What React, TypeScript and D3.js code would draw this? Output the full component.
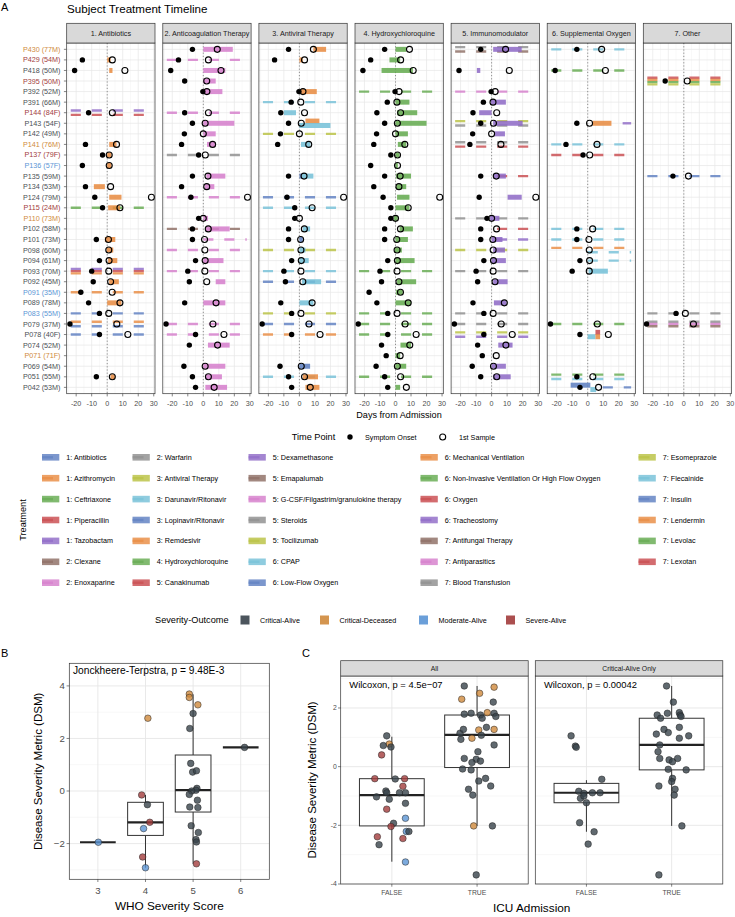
import React from "react";
import * as d3 from "d3";

const FONT = "'Liberation Sans', Arial, Helvetica, sans-serif";

// ---- panel A data ----
const patients = ["P430","P429","P418","P395","P392","P391","P144","P143","P142","P141","P137","P136","P135","P134","P124","P115","P110","P102","P101","P098","P094","P093","P092","P091","P089","P083","P079","P078","P074","P071","P069","P051","P042"];
const patientAgeSex = ["77M","54M","50M","50M","52M","66M","84F","54F","49M","76M","79F","57F","59M","53M","79M","24M","73M","58M","73M","60M","61M","70M","45M","35M","78M","55M","37M","40F","52M","71F","54M","55M","53M"];
const patientOutcome = ["CD","SA","CA","SA","CA","CA","SA","CA","CA","CD","SA","MA","CA","CA","CA","SA","CD","CA","CA","CA","CA","CA","CA","MA","CA","MA","CA","CA","CA","CD","CA","CA","CA"];
const onsetDay = [-7,-16,-21,-12,-0.3,-5.3,-12,-7,-12.2,-14,-3,-16,-7,-14,-8,-3,-3,-7,-7,null,-5,-10,-9,-17,-12,-5,-24,-5,-9,-6,-12.5,-7,-5];
const sampleDay = [9,3.3,11.4,2.2,2.3,0.9,3.3,1.2,0,6,1.3,1.3,3,2.2,28.5,8.2,0,3.2,0.8,1,1.2,1,2.2,3.2,8.2,1,6.2,13.3,9.2,3,1.2,3.3,7];

const outcomes = ["Critical-Alive","Critical-Deceased","Moderate-Alive","Severe-Alive"];
const outcomeCodes = ["CA","CD","MA","SA"];
const outcomeColors = ["#38434b","#cf8a3c","#5b95d5","#a23c3c"];

const facetNames = ["1. Antibiotics","2. Anticoagulation Therapy","3. Antiviral Therapy","4. Hydroxychloroquine","5. Immunomodulator","6. Supplemental Oxygen","7. Other"];

const treatments = [
  "1: Antibiotics","1: Azithromycin","1: Ceftriaxone","1: Piperacillin","1: Tazobactam","2: Clexane","2: Enoxaparine",
  "2: Warfarin","3: Antiviral Therapy","3: Darunavir/Ritonavir","3: Lopinavir/Ritonavir","3: Remdesivir","4: Hydroxychloroquine","5: Canakinumab",
  "5: Dexamethasone","5: Emapalumab","5: G-CSF/Filgastrim/granulokine therapy","5: Steroids","5: Tocilizumab","6: CPAP","6: Low-Flow Oxygen",
  "6: Mechanical Ventilation","6: Non-Invasive Ventilation Or High Flow Oxygen","6: Oxygen","6: Tracheostomy","7: Antifungal Therapy","7: Antiparasitics","7: Blood Transfusion",
  "7: Esomeprazole","7: Flecainide","7: Insulin","7: Lendermin","7: Levolac","7: Lexotan"
];
const treatmentPalette = ["#5b7dc0","#e8893e","#62a94c","#c8474b","#8d68c6","#8b6a60","#d57ccb","#8c8c8c","#b8c03f","#73bfd7"];

// [patient, treatment, start day, end day, dashed, lane]
const antibioticsSegs = [
  ["P429","1: Azithromycin",0,2.2,0,0],
  ["P418","1: Azithromycin",1.3,3.4,0,0],
  ["P144","1: Tazobactam",-23.5,28,1,-1],
  ["P144","1: Piperacillin",-23.5,28,1,1],
  ["P141","1: Azithromycin",1.3,6,0,0],
  ["P137","1: Azithromycin",0,2.8,0,0],
  ["P136","1: Azithromycin",0,2.8,0,0],
  ["P134","1: Azithromycin",-8.6,-1.5,0,0],
  ["P124","1: Azithromycin",1.3,9.2,0,0],
  ["P115","1: Ceftriaxone",-23.5,28,1,0],
  ["P115","1: Azithromycin",0.6,8.2,0,0],
  ["P101","1: Azithromycin",-1.5,5.2,0,0],
  ["P098","1: Azithromycin",-0.4,3.9,0,0],
  ["P094","1: Azithromycin",0.6,6.5,0,0],
  ["P093","1: Tazobactam",-23.5,28,1,-1],
  ["P093","1: Piperacillin",-23.5,28,1,0],
  ["P093","1: Azithromycin",-23.5,28,1,1],
  ["P092","1: Azithromycin",1.3,7.5,0,0],
  ["P091","1: Azithromycin",-23.5,28,1,0],
  ["P089","1: Azithromycin",0,9.2,0,0],
  ["P083","1: Antibiotics",-23.5,28,1,0],
  ["P079","1: Azithromycin",-23.5,28,1,-1],
  ["P079","1: Antibiotics",-23.5,28,1,1],
  ["P078","1: Antibiotics",-23.5,28,1,0],
  ["P051","1: Azithromycin",2.2,5,0,0],
];
const anticoagSegs = [
  ["P430","2: Enoxaparine",0,19,0,0],
  ["P429","2: Enoxaparine",-23.5,28,1,0],
  ["P418","2: Enoxaparine",0,14.2,0,0],
  ["P395","2: Enoxaparine",0,8,0,0],
  ["P392","2: Enoxaparine",0,12.3,0,0],
  ["P144","2: Enoxaparine",-23.5,28,1,0],
  ["P143","2: Enoxaparine",0,20,0,0],
  ["P142","2: Enoxaparine",0,8,0,0],
  ["P141","2: Enoxaparine",2.4,8,0,0],
  ["P137","2: Warfarin",-23.5,28,1,0],
  ["P135","2: Enoxaparine",2,14.2,0,0],
  ["P134","2: Enoxaparine",0.9,7.1,0,0],
  ["P124","2: Enoxaparine",-23.5,28,1,0],
  ["P110","2: Enoxaparine",0,3,0,0],
  ["P102","2: Clexane",-23.5,28,1,0],
  ["P102","2: Enoxaparine",1.5,17,0,0],
  ["P101","2: Enoxaparine",0,28,1,0],
  ["P098","2: Enoxaparine",-23.5,28,1,0],
  ["P094","2: Enoxaparine",0,13,0,0],
  ["P093","2: Enoxaparine",-23.5,28,1,0],
  ["P092","2: Enoxaparine",8,14.2,0,0],
  ["P089","2: Enoxaparine",0,14.2,0,0],
  ["P079","2: Enoxaparine",-23.5,28,1,0],
  ["P078","2: Enoxaparine",-23.5,28,1,0],
  ["P074","2: Enoxaparine",3,17,0,0],
  ["P069","2: Enoxaparine",0,14.2,0,0],
  ["P051","2: Enoxaparine",1.3,12,0,0],
  ["P042","2: Enoxaparine",1.3,15.3,0,0],
];
const antiviralSegs = [
  ["P430","3: Remdesivir",9,17.2,0,0],
  ["P429","3: Remdesivir",0,2.2,0,0],
  ["P392","3: Remdesivir",1,11.2,0,0],
  ["P391","3: Darunavir/Ritonavir",-23.5,28,1,0],
  ["P144","3: Darunavir/Ritonavir",-10,-2.2,0,0],
  ["P143","3: Remdesivir",3.9,12.9,0,-1],
  ["P143","3: Darunavir/Ritonavir",0,20,0,1],
  ["P142","3: Antiviral Therapy",-23.5,28,1,0],
  ["P141","3: Darunavir/Ritonavir",1,7.1,0,0],
  ["P135","3: Lopinavir/Ritonavir",0,1.5,0,0],
  ["P135","3: Darunavir/Ritonavir",1.5,9,0,0],
  ["P124","3: Lopinavir/Ritonavir",-23.5,28,1,0],
  ["P115","3: Darunavir/Ritonavir",-23.5,28,1,0],
  ["P110","3: Darunavir/Ritonavir",0,0,0,0],
  ["P102","3: Darunavir/Ritonavir",2.2,6.9,0,0],
  ["P101","3: Lopinavir/Ritonavir",0,2.2,0,0],
  ["P098","3: Antiviral Therapy",-23.5,28,1,0],
  ["P098","3: Darunavir/Ritonavir",0,3.9,0,0],
  ["P094","3: Darunavir/Ritonavir",0,6,0,0],
  ["P093","3: Darunavir/Ritonavir",-23.5,28,1,0],
  ["P092","3: Lopinavir/Ritonavir",-23.5,28,1,0],
  ["P092","3: Darunavir/Ritonavir",1.7,14,0,0],
  ["P089","3: Darunavir/Ritonavir",0,9,0,0],
  ["P083","3: Antiviral Therapy",-23.5,28,1,0],
  ["P079","3: Lopinavir/Ritonavir",-23.5,28,1,0],
  ["P078","3: Remdesivir",-23.5,28,1,0],
  ["P069","3: Lopinavir/Ritonavir",0,6.9,0,0],
  ["P051","3: Darunavir/Ritonavir",-23.5,28,1,0],
  ["P051","3: Remdesivir",2.2,12,0,0],
  ["P042","3: Remdesivir",3.9,12.9,0,0],
];
const hcqSegs = [
  ["P430","4: Hydroxychloroquine",0,6.9,0,0],
  ["P429","4: Hydroxychloroquine",-3.9,3,0,0],
  ["P418","4: Hydroxychloroquine",-9,11.2,0,0],
  ["P392","4: Hydroxychloroquine",-23.5,28,1,0],
  ["P391","4: Hydroxychloroquine",0,9,0,0],
  ["P144","4: Hydroxychloroquine",1,14,0,0],
  ["P143","4: Hydroxychloroquine",0,20,0,0],
  ["P142","4: Hydroxychloroquine",0,8,0,0],
  ["P141","4: Hydroxychloroquine",1.5,6.9,0,0],
  ["P137","4: Hydroxychloroquine",0,2.6,0,0],
  ["P136","4: Hydroxychloroquine",0,1.5,0,0],
  ["P135","4: Hydroxychloroquine",0.4,10,0,0],
  ["P134","4: Hydroxychloroquine",0.4,6.9,0,0],
  ["P124","4: Hydroxychloroquine",1,9,0,0],
  ["P115","4: Hydroxychloroquine",0,9,0,0],
  ["P110","4: Hydroxychloroquine",-1,1.5,0,0],
  ["P102","4: Hydroxychloroquine",2.6,11.2,0,0],
  ["P101","4: Hydroxychloroquine",0,8,0,0],
  ["P098","4: Hydroxychloroquine",-0.6,4.1,0,0],
  ["P094","4: Hydroxychloroquine",0,12.3,0,0],
  ["P093","4: Hydroxychloroquine",-23.5,28,1,0],
  ["P092","4: Hydroxychloroquine",1,13.3,0,0],
  ["P091","4: Hydroxychloroquine",0.4,4.7,0,0],
  ["P089","4: Hydroxychloroquine",0,10,0,0],
  ["P083","4: Hydroxychloroquine",-23.5,28,1,0],
  ["P079","4: Hydroxychloroquine",-23.5,28,1,0],
  ["P078","4: Hydroxychloroquine",-23.5,28,1,0],
  ["P074","4: Hydroxychloroquine",3.2,10,0,0],
  ["P071","4: Hydroxychloroquine",0,3,0,0],
  ["P069","4: Hydroxychloroquine",0,6.9,0,0],
  ["P051","4: Hydroxychloroquine",-23.5,28,1,0],
  ["P042","4: Hydroxychloroquine",0,3,0,0],
];
const immunoSegs = [
  ["P430","5: Steroids",-23.5,28,1,-1],
  ["P430","5: Emapalumab",-23.5,28,1,1],
  ["P430","5: Dexamethasone",1,19.4,0,0],
  ["P418","5: Dexamethasone",-9.5,-7.3,0,0],
  ["P392","5: G-CSF/Filgastrim/granulokine therapy",-23.5,28,1,0],
  ["P391","5: Dexamethasone",-0.4,9.2,0,0],
  ["P144","5: Dexamethasone",-8,0,0,0],
  ["P143","5: Tocilizumab",-23.5,28,1,-1],
  ["P143","5: Steroids",-23.5,28,1,1],
  ["P143","5: Dexamethasone",1,20,0,0],
  ["P142","5: Dexamethasone",1.7,8.6,0,0],
  ["P141","5: Steroids",-23.5,28,1,-1],
  ["P141","5: Canakinumab",-23.5,28,1,1],
  ["P135","5: Canakinumab",3.5,28,1,0],
  ["P135","5: Dexamethasone",1,9.2,0,0],
  ["P124","5: Dexamethasone",10.3,19.4,0,0],
  ["P110","5: Steroids",-23.5,28,1,0],
  ["P110","5: Dexamethasone",-1,5,0,0],
  ["P102","5: Canakinumab",3.5,28,1,0],
  ["P101","5: Dexamethasone",0,7,0,0],
  ["P101","5: Dexamethasone",3.5,28,1,0],
  ["P098","5: Tocilizumab",-23.5,28,1,0],
  ["P098","5: Dexamethasone",1,8.6,0,0],
  ["P094","5: Dexamethasone",0,9.2,0,0],
  ["P093","5: Steroids",-23.5,28,1,0],
  ["P092","5: Dexamethasone",1,10.3,0,0],
  ["P089","5: Dexamethasone",1.5,9.7,0,0],
  ["P083","5: Steroids",-23.5,28,1,0],
  ["P079","5: Steroids",-23.5,28,1,0],
  ["P078","5: Tocilizumab",-23.5,28,1,-1],
  ["P078","5: Dexamethasone",-23.5,28,1,1],
  ["P074","5: Dexamethasone",4.3,13.5,0,0],
  ["P071","5: Dexamethasone",0,0,0,0],
  ["P069","5: Dexamethasone",0,9.2,0,0],
  ["P051","5: Dexamethasone",1,12.3,0,0],
];
const oxygenSegs = [
  ["P430","6: CPAP",-23.5,28,1,0],
  ["P418","6: Non-Invasive Ventilation Or High Flow Oxygen",-23.5,28,1,0],
  ["P143","6: Mechanical Ventilation",3.2,15.3,0,0],
  ["P143","6: Tracheostomy",22.5,28,1,0],
  ["P141","6: CPAP",-23.5,28,1,0],
  ["P137","6: Oxygen",-23.5,28,1,0],
  ["P102","6: CPAP",-23.5,28,1,0],
  ["P101","6: CPAP",-23.5,28,1,0],
  ["P098","6: Mechanical Ventilation",-23.5,28,1,-1],
  ["P098","6: CPAP",0,28,1,1],
  ["P094","6: CPAP",0,28,1,0],
  ["P093","6: CPAP",0.6,13,0,0],
  ["P079","6: Non-Invasive Ventilation Or High Flow Oxygen",-23.5,28,1,0],
  ["P078","6: CPAP",0,5,0,1],
  ["P078","6: Oxygen",5,8,0,-1],
  ["P078","6: Mechanical Ventilation",5,8,0,1],
  ["P051","6: Non-Invasive Ventilation Or High Flow Oxygen",-23.5,28,1,-1],
  ["P051","6: CPAP",-23.5,28,1,1],
  ["P042","6: Low-Flow Oxygen",-11,1.7,0,-1],
  ["P042","6: CPAP",1.7,5.4,0,1],
  ["P042","6: Low-Flow Oxygen",9.7,28,1,0],
];
const otherSegs = [
  ["P395","7: Lexotan",-23.5,28,1,-1.5],
  ["P395","7: Lendermin",-23.5,28,1,-0.5],
  ["P395","7: Levolac",-23.5,28,1,0.5],
  ["P395","7: Esomeprazole",-23.5,28,1,1.5],
  ["P135","7: Insulin",-23.5,28,1,0],
  ["P083","7: Blood Transfusion",-23.5,28,1,0],
  ["P079","7: Blood Transfusion",-23.5,28,1,-1],
  ["P079","7: Antiparasitics",-23.5,28,1,0],
  ["P079","7: Antifungal Therapy",-23.5,28,1,1],
];
const facetSegments = [antibioticsSegs, anticoagSegs, antiviralSegs, hcqSegs, immunoSegs, oxygenSegs, otherSegs];

const dayTicks = [-20, -10, 0, 10, 20, 30];
const dayMinor = [-25, -15, -5, 5, 15, 25];

// ---- panel B data ----
const whoScores = ["3", "4", "5", "6"];
// [score, lower whisker, q1, median, q3, upper whisker]
const bBoxes = [
  ["3", -1.95, -1.95, -1.95, -1.95, -1.95],
  ["4", -2.92, -1.69, -1.19, -0.43, -0.15],
  ["5", -2.77, -0.8, 0.03, 1.37, 3.68],
  ["6", 1.66, 1.66, 1.66, 1.66, 1.66],
];
// [score, DSM, jitter, outcome]
const bPoints = [
  ["3", -1.95, 0.01, "MA"],
  ["4", -0.15, -0.08, "SA"], ["4", -0.52, 0.04, "CA"], ["4", -1.19, 0.09, "SA"], ["4", -1.43, -0.04, "MA"],
  ["4", -2.51, -0.06, "SA"], ["4", -2.92, 0, "MA"], ["4", 2.77, 0.05, "CD"],
  ["5", 3.69, -0.08, "CD"], ["5", 3.56, -0.08, "CD"], ["5", 3.28, 0.1, "CD"], ["5", 2.95, 0, "CA"],
  ["5", 2.38, -0.07, "CA"], ["5", 1.05, -0.05, "CA"], ["5", 0.72, -0.01, "CA"], ["5", 0.77, 0.07, "CA"],
  ["5", 0.1, 0.08, "CA"], ["5", 0.03, 0.06, "CA"], ["5", 0.0, -0.03, "CA"], ["5", -0.13, -0.08, "CA"],
  ["5", -0.35, 0.09, "CA"], ["5", -0.61, -0.07, "CA"], ["5", -0.63, 0.1, "CA"], ["5", -1.32, -0.04, "CA"],
  ["5", -1.58, 0.11, "CA"], ["5", -1.85, 0.06, "CA"], ["5", -1.94, 0.07, "CA"], ["5", -2.77, 0.07, "SA"],
  ["6", 1.66, 0.08, "CA"],
];

// ---- panel C data ----
const icuLevels = ["FALSE", "TRUE"];
const cFacets = ["All", "Critical-Alive Only"];
const cTests = ["Wilcoxon, p = 4.5e\u221207", "Wilcoxon, p = 0.00042"];
// [facet, ICU, lower whisker, q1, median, q3, upper whisker]
const cBoxes = [
  ["All", "FALSE", -3.24, -2.02, -0.97, -0.41, 1.02],
  ["All", "TRUE", -2.02, -0.03, 1.08, 1.76, 2.75],
  ["Critical-Alive Only", "FALSE", -2.22, -1.23, -0.89, -0.57, -0.46],
  ["Critical-Alive Only", "TRUE", -2.02, -0.11, 0.74, 1.65, 2.75],
];
// [DSM, jitter, outcome]
const cAllFalse = [
  [1.05,-0.06,"CA"],[0.77,-0.03,"CD"],[0.72,-0.1,"CA"],[0.67,-0.01,"CA"],[0.4,-0.12,"SA"],[-0.41,-0.2,"SA"],
  [-0.42,0.04,"CA"],[-0.41,0.15,"SA"],[-0.67,0.13,"SA"],[-0.83,-0.07,"CA"],[-0.89,-0.06,"CA"],[-1.03,-0.18,"CA"],
  [-0.89,0.09,"CA"],[-0.89,0.16,"CA"],[-1.11,-0.03,"CA"],[-1.25,0.16,"CA"],[-1.45,-0.06,"SA"],[-1.76,0.16,"MA"],
  [-1.93,0.02,"CA"],[-2.04,-0.01,"SA"],[-2.21,0.17,"MA"],[-2.21,0.2,"CA"],[-2.39,-0.17,"SA"],[-2.45,0.13,"SA"],
  [-2.66,-0.15,"CA"],[-3.25,0.16,"MA"],
];
const cAllTrue = [
  [2.75,-0.15,"CA"],[2.71,0.2,"CD"],[2.5,0.03,"CD"],[2.3,-0.18,"CD"],[2.2,0.19,"CA"],[1.79,-0.15,"CA"],
  [1.82,-0.07,"CA"],[1.84,0.12,"CD"],[1.76,0.04,"CA"],[1.65,0.06,"CA"],[1.82,0.2,"CA"],[1.71,0.22,"CA"],
  [1.14,-0.2,"CA"],[1.27,-0.16,"CA"],[1.34,0.11,"CA"],[1.25,0.02,"CD"],[1.27,0.2,"CD"],[0.97,-0.06,"CD"],
  [0.93,-0.19,"CA"],[1.07,0.05,"CA"],[0.74,0.2,"CA"],[0.51,0.01,"CA"],[0.28,-0.15,"CA"],[0.25,-0.01,"CA"],
  [0.19,0.04,"CA"],[0.14,-0.06,"CA"],[-0.08,-0.17,"CA"],[-0.11,-0.07,"CA"],[-0.4,0.1,"CA"],[-0.49,0.02,"CA"],
  [-0.77,-0.1,"CA"],[-0.66,0.16,"CA"],[-0.97,-0.05,"CA"],[-2.02,-0.04,"CD"],[-2.02,0.18,"CA"],[-3.69,-0.01,"CA"],
];
const cCaFalse = [
  [1.05,-0.18,"CA"],[0.7,-0.13,"CA"],[0.66,-0.12,"CA"],[-0.43,0.18,"CA"],[-0.84,-0.09,"CA"],[-0.91,-0.03,"CA"],
  [-0.89,0.16,"CA"],[-0.89,0.07,"CA"],[-1.08,-0.07,"CA"],[-1.0,-0.03,"CA"],[-1.23,0,"CA"],[-1.91,-0.08,"CA"],
  [-2.22,0.09,"CA"],[-2.64,0.02,"CA"],
];
const cCaTrue = [
  [2.75,-0.06,"CA"],[2.2,0.02,"CA"],[1.76,-0.17,"CA"],[1.65,-0.13,"CA"],[1.82,-0.05,"CA"],[1.84,0.09,"CA"],
  [1.76,0.1,"CA"],[1.71,0.11,"CA"],[1.11,-0.18,"CA"],[1.27,-0.09,"CA"],[1.16,-0.04,"CA"],[1.34,0.09,"CA"],
  [1.05,0.2,"CA"],[0.97,0.09,"CA"],[0.74,-0.14,"CA"],[0.51,-0.16,"CA"],[0.28,-0.14,"CA"],[0.23,-0.03,"CA"],
  [0.17,0.01,"CA"],[0.28,0.07,"CA"],[-0.09,-0.04,"CA"],[-0.11,0.17,"CA"],[-0.4,0.01,"CA"],[-0.51,0,"CA"],
  [-0.66,-0.15,"CA"],[-0.77,0.04,"CA"],[-0.97,0.03,"CA"],[-2.02,0.12,"CA"],[-3.69,-0.15,"CA"],
];
const cPointSets = [[cAllFalse, cAllTrue], [cCaFalse, cCaTrue]];

// ---- layout ----
const A_LEFT = 66.7, A_STEP = 96.1, A_W = 88.3, A_TOP = 43, A_BOTTOM = 393.7, STRIP_TOP = 23.3;
const LANE = 2.2;

const outcomeColor = d3.scaleOrdinal<string, string>().domain(outcomeCodes).range(outcomeColors);
const treatColor = d3.scaleOrdinal<string, string>().domain(treatments).range(treatmentPalette);
const fmt = (v: number) => (v < 0 ? `-${-v}` : `${v}`);

function BoxGroup({ x, y, box, width, pts, jitterScale }: any) {
  const [cat, lo, q1, med, q3, hi] = box;
  const cx = x(cat);
  const hw = (width * jitterScale) / 2;
  return (
    <g>
      <line x1={cx} x2={cx} y1={y(hi)} y2={y(q3)} stroke="#333" strokeWidth={1} />
      <line x1={cx} x2={cx} y1={y(q1)} y2={y(lo)} stroke="#333" strokeWidth={1} />
      <rect x={cx - hw} y={y(q3)} width={hw * 2} height={Math.max(0, y(q1) - y(q3))} fill="#fff" stroke="#333" strokeWidth={1} />
      <line x1={cx - hw} x2={cx + hw} y1={y(med)} y2={y(med)} stroke="#222" strokeWidth={2.2} />
      {pts.map(([v, j, o]: any, k: number) => (
        <circle key={k} cx={cx + j * jitterScale} cy={y(v)} r={3.3} fill={outcomeColor(o)} fillOpacity={0.8} stroke="#222" strokeWidth={0.5} />
      ))}
    </g>
  );
}

export default function App() {
  const yA = d3.scalePoint<string>().domain(patients).range([A_TOP, A_BOTTOM]).padding(0.6);

  // panel B scales
  const bLeft = 69.3, bRight = 269.3, bTop = 663.3, bBottom = 879.3;
  const xB = d3.scalePoint<string>().domain(whoScores).range([bLeft, bRight]).padding(0.6);
  const yB = d3.scaleLinear().domain([-3.36, 4.86]).range([bBottom, bTop]);
  const bStep = xB.step();

  // panel C
  const cLefts = [340.7, 535.3], cW = 187.5, cTop = 676, cBottom = 884, cStripTop = 660.7;
  const yC = d3.scaleLinear().domain([-4.0, 3.09]).range([cBottom, cTop]);

  const legendKeyX = [42, 132.5, 248.5, 420.5, 638.5];
  const legendRowY = (r: number) => 457.3 + r * 20.9;

  return (
    <svg width={735} height={917} style={{ position: "absolute", left: 0, top: 0, background: "#fff" }} fontFamily={FONT}>
      <rect width={735} height={917} fill="#fff" />
      <text x={1} y={10.5} fontSize={11}>A</text>
      <text x={67} y={13.3} fontSize={11.6} fill="#000">Subject Treatment Timeline</text>

      {/* patient labels */}
      {patients.map((p, i) => (
        <g key={p}>
          <text x={60.5} y={yA(p)} dy="0.35em" textAnchor="end" fontSize={7.2} fill={patientOutcome[i] === "CA" ? "#4a4f54" : outcomeColor(patientOutcome[i])}>
            {`${p} (${patientAgeSex[i]})`}
          </text>
          <line x1={63.9} x2={A_LEFT} y1={yA(p)} y2={yA(p)} stroke="#333" strokeWidth={0.6} />
        </g>
      ))}

      {facetNames.map((name, fi) => {
        const left = A_LEFT + fi * A_STEP;
        const x = d3.scaleLinear().domain([-26.1, 30.8]).range([left, left + A_W]);
        const segs = facetSegments[fi] as any[];
        const shown = Array.from(new Set(segs.map((s) => s[0] as string)));
        return (
          <g key={name}>
            <rect x={left} y={A_TOP} width={A_W} height={A_BOTTOM - A_TOP} fill="#fff" />
            {dayMinor.map((v) => (
              <line key={"m" + v} x1={x(v)} x2={x(v)} y1={A_TOP} y2={A_BOTTOM} stroke="#f2f2f2" strokeWidth={0.5} />
            ))}
            {dayTicks.map((v) => (
              <line key={"M" + v} x1={x(v)} x2={x(v)} y1={A_TOP} y2={A_BOTTOM} stroke="#e6e6e6" strokeWidth={0.7} />
            ))}
            {patients.map((p) => (
              <line key={"h" + p} x1={left} x2={left + A_W} y1={yA(p)} y2={yA(p)} stroke="#e6e6e6" strokeWidth={0.7} />
            ))}
            <line x1={x(0)} x2={x(0)} y1={A_TOP} y2={A_BOTTOM} stroke="#777" strokeWidth={0.8} strokeDasharray="1.2 2" />
            {segs.map(([p, t, s, e, d, lane]: any, k: number) => (
              <line key={k} x1={x(s)} x2={x(e)} y1={(yA(p) as number) + lane * LANE} y2={(yA(p) as number) + lane * LANE}
                stroke={treatColor(t)} strokeOpacity={d ? 0.8 : 0.85} strokeWidth={d ? 2.4 : 5}
                strokeDasharray={d ? "10.1 10.9" : undefined} />
            ))}
            {shown.map((p) => {
              const i = patients.indexOf(p);
              const yy = yA(p) as number;
              return (
                <g key={"pt" + p}>
                  {onsetDay[i] !== null && <circle cx={x(onsetDay[i] as number)} cy={yy} r={2.7} fill="#000" />}
                  <circle cx={x(sampleDay[i])} cy={yy} r={3} fill="none" stroke="#000" strokeWidth={1.1} />
                </g>
              );
            })}
            <rect x={left} y={A_TOP} width={A_W} height={A_BOTTOM - A_TOP} fill="none" stroke="#333" strokeWidth={0.7} />
            <rect x={left} y={STRIP_TOP} width={A_W} height={A_TOP - STRIP_TOP} fill="#d9d9d9" stroke="#333" strokeWidth={0.7} />
            <text x={left + A_W / 2} y={(STRIP_TOP + A_TOP) / 2} dy="0.35em" textAnchor="middle" fontSize={7.2} fill="#1a1a1a">{name}</text>
            {dayTicks.map((v) => (
              <g key={"t" + v}>
                <line x1={x(v)} x2={x(v)} y1={A_BOTTOM} y2={A_BOTTOM + 2.7} stroke="#333" strokeWidth={0.6} />
                <text x={x(v)} y={403.3} dy="0.35em" textAnchor="middle" fontSize={7.2} fill="#4d4d4d">{fmt(v)}</text>
              </g>
            ))}
          </g>
        );
      })}

      <text x={399} y={415} dy="0.35em" textAnchor="middle" fontSize={9.1}>Days from Admission</text>

      {/* Time point legend */}
      <text x={291.7} y={437} dy="0.35em" fontSize={9.2}>Time Point</text>
      <circle cx={350} cy={437} r={2.7} fill="#000" />
      <text x={365} y={437} dy="0.35em" fontSize={7.2}>Symptom Onset</text>
      <circle cx={442.7} cy={437} r={3} fill="none" stroke="#000" strokeWidth={1.1} />
      <text x={459} y={437} dy="0.35em" fontSize={7.2}>1st Sample</text>

      {/* Treatment legend */}
      <text transform={`translate(23,520) rotate(-90)`} textAnchor="middle" dy="0.35em" fontSize={9.2}>Treatment</text>
      {treatments.map((t, i) => {
        const col = Math.floor(i / 7), row = i % 7;
        const kx = legendKeyX[col], ky = legendRowY(row);
        return (
          <g key={t}>
            <rect x={kx} y={ky - 3.3} width={17.3} height={6.6} fill={treatColor(t)} fillOpacity={0.8} />
            <line x1={kx} x2={kx + 11} y1={ky} y2={ky} stroke={treatColor(t)} strokeOpacity={0.6} strokeWidth={2.4} />
            <text x={kx + 24.3} y={ky} dy="0.35em" fontSize={7.2}>{t}</text>
          </g>
        );
      })}

      {/* Severity legend */}
      <text x={155} y={620} dy="0.35em" fontSize={9.2}>Severity-Outcome</text>
      {outcomes.map((o, i) => {
        const kx = [240.5, 320, 419, 506][i];
        return (
          <g key={o}>
            <rect x={kx} y={615.5} width={9} height={9} fill={outcomeColors[i]} fillOpacity={0.9} />
            <text x={kx + 19.5} y={620} dy="0.35em" fontSize={7.2}>{o}</text>
          </g>
        );
      })}

      {/* Panel B */}
      <text x={1} y={657} fontSize={11}>B</text>
      <rect x={bLeft} y={bTop} width={bRight - bLeft} height={bBottom - bTop} fill="#fff" />
      {[-3, -1, 1, 3].map((v) => (
        <line key={"bm" + v} x1={bLeft} x2={bRight} y1={yB(v)} y2={yB(v)} stroke="#f2f2f2" strokeWidth={0.6} />
      ))}
      {[-2, 0, 2, 4].map((v) => (
        <line key={"bM" + v} x1={bLeft} x2={bRight} y1={yB(v)} y2={yB(v)} stroke="#e6e6e6" strokeWidth={0.9} />
      ))}
      {whoScores.map((s) => (
        <line key={"bx" + s} x1={xB(s)} x2={xB(s)} y1={bTop} y2={bBottom} stroke="#e6e6e6" strokeWidth={0.9} />
      ))}
      {bBoxes.map((b) => (
        <BoxGroup key={"bb" + b[0]} x={xB} y={yB} box={b} width={0.75} jitterScale={bStep}
          pts={bPoints.filter((p) => p[0] === b[0]).map((p) => [p[1], p[2], p[3]])} />
      ))}
      <text x={73} y={670.5} dy="0.35em" fontSize={10.2}>Jonckheere-Terpstra, p = 9.48E-3</text>
      <rect x={bLeft} y={bTop} width={bRight - bLeft} height={bBottom - bTop} fill="none" stroke="#333" strokeWidth={0.7} />
      {[-2, 0, 2, 4].map((v) => (
        <g key={"byt" + v}>
          <line x1={bLeft - 2.7} x2={bLeft} y1={yB(v)} y2={yB(v)} stroke="#333" strokeWidth={0.6} />
          <text x={bLeft - 4.5} y={yB(v)} dy="0.35em" textAnchor="end" fontSize={9.6} fill="#4d4d4d">{v < 0 ? `\u2212${-v}` : v}</text>
        </g>
      ))}
      {whoScores.map((s) => (
        <g key={"bxt" + s}>
          <line x1={xB(s)} x2={xB(s)} y1={bBottom} y2={bBottom + 2.7} stroke="#333" strokeWidth={0.6} />
          <text x={xB(s)} y={890.5} dy="0.35em" textAnchor="middle" fontSize={9.6} fill="#4d4d4d">{s}</text>
        </g>
      ))}
      <text x={(bLeft + bRight) / 2} y={905.5} dy="0.35em" textAnchor="middle" fontSize={11.8}>WHO Severity Score</text>
      <text transform={`translate(38,${(bTop + bBottom) / 2}) rotate(-90)`} textAnchor="middle" dy="0.35em" fontSize={11.5}>Disease Severity Metric (DSM)</text>

      {/* Panel C */}
      <text x={302} y={657} fontSize={11}>C</text>
      {cFacets.map((f, fi) => {
        const left = cLefts[fi];
        const xC = d3.scalePoint<string>().domain(icuLevels).range([left, left + cW]).padding(0.6);
        const step = xC.step();
        return (
          <g key={f}>
            <rect x={left} y={cTop} width={cW} height={cBottom - cTop} fill="#fff" />
            {[-3, -1, 1, 3].map((v) => (
              <line key={"cm" + v} x1={left} x2={left + cW} y1={yC(v)} y2={yC(v)} stroke="#f2f2f2" strokeWidth={0.6} />
            ))}
            {[-4, -2, 0, 2].map((v) => (
              <line key={"cM" + v} x1={left} x2={left + cW} y1={yC(v)} y2={yC(v)} stroke="#e6e6e6" strokeWidth={0.9} />
            ))}
            {icuLevels.map((l) => (
              <line key={"cx" + l} x1={xC(l)} x2={xC(l)} y1={cTop} y2={cBottom} stroke="#e6e6e6" strokeWidth={0.9} />
            ))}
            {cBoxes.filter((b) => b[0] === f).map((b, bi) => (
              <BoxGroup key={"cb" + bi} x={xC} y={yC} box={b.slice(1)} width={0.76} jitterScale={step}
                pts={cPointSets[fi][icuLevels.indexOf(b[1] as string)]} />
            ))}
            <text x={left + 8.6} y={685} dy="0.35em" fontSize={9.4}>{cTests[fi]}</text>
            <rect x={left} y={cTop} width={cW} height={cBottom - cTop} fill="none" stroke="#333" strokeWidth={0.7} />
            <rect x={left} y={cStripTop} width={cW} height={cTop - cStripTop} fill="#d9d9d9" stroke="#333" strokeWidth={0.7} />
            <text x={left + cW / 2} y={(cStripTop + cTop) / 2} dy="0.35em" textAnchor="middle" fontSize={6.8} fill="#1a1a1a">{f}</text>
            {icuLevels.map((l) => (
              <g key={"cxt" + l}>
                <line x1={xC(l)} x2={xC(l)} y1={cBottom} y2={cBottom + 2.7} stroke="#333" strokeWidth={0.6} />
                <text x={xC(l)} y={892.7} dy="0.35em" textAnchor="middle" fontSize={6.8} fill="#4d4d4d">{l}</text>
              </g>
            ))}
          </g>
        );
      })}
      {[-4, -2, 0, 2].map((v) => (
        <g key={"cyt" + v}>
          <line x1={cLefts[0] - 2.7} x2={cLefts[0]} y1={yC(v)} y2={yC(v)} stroke="#333" strokeWidth={0.6} />
          <text x={cLefts[0] - 4} y={yC(v)} dy="0.35em" textAnchor="end" fontSize={6.8} fill="#4d4d4d">{fmt(v)}</text>
        </g>
      ))}
      <text x={531.7} y={908} dy="0.35em" textAnchor="middle" fontSize={11.8}>ICU Admission</text>
      <text transform={`translate(311.7,${(cTop + cBottom) / 2}) rotate(-90)`} textAnchor="middle" dy="0.35em" fontSize={11.5}>Disease Severity Metric (DSM)</text>
    </svg>
  );
}
